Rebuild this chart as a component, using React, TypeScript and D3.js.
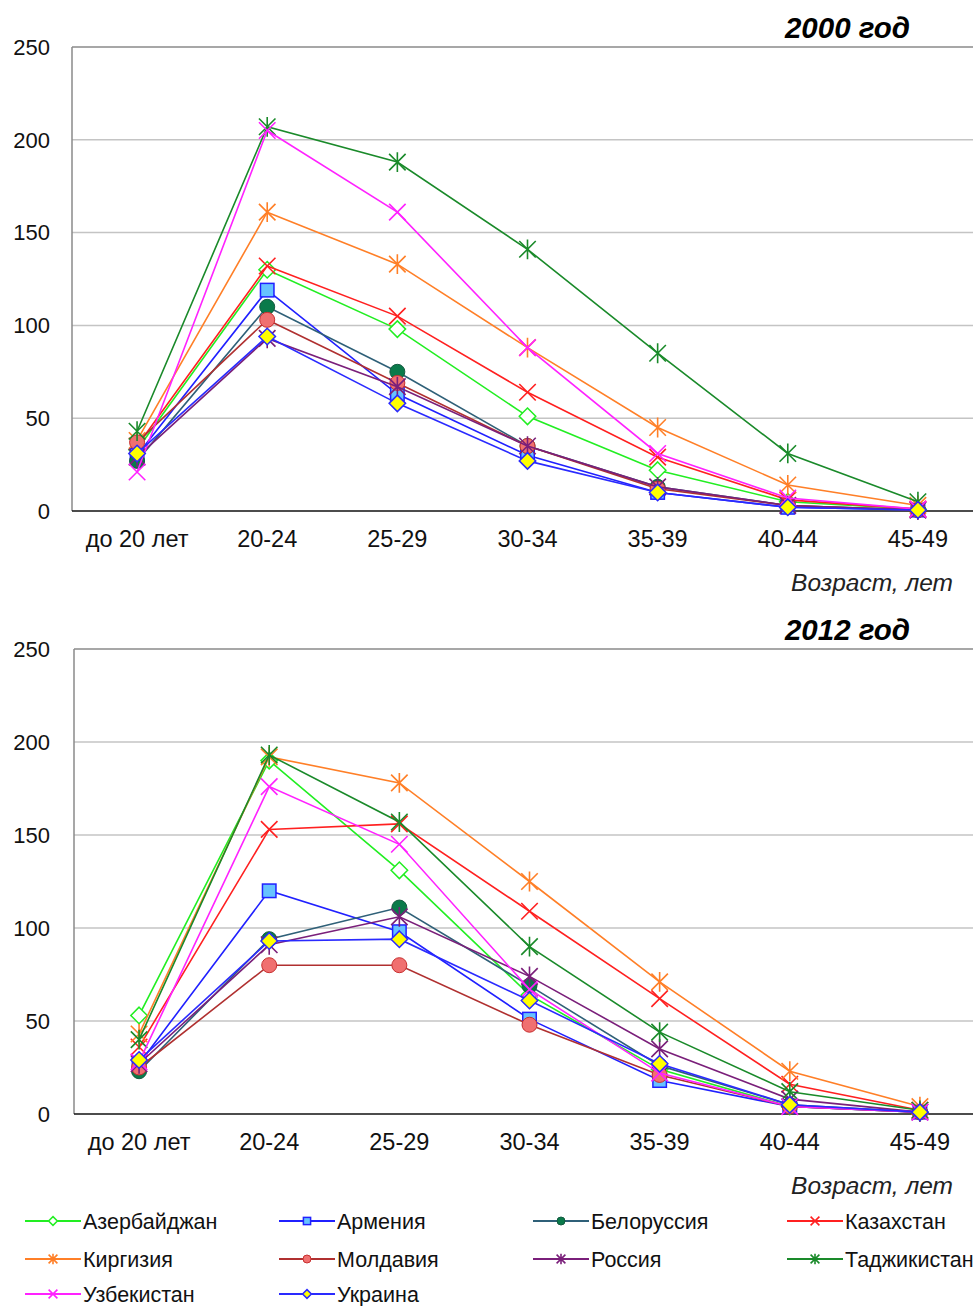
import * as d3 from 'd3';

const ages = ['до 20 лет', '20-24', '25-29', '30-34', '35-39', '40-44', '45-49'];
const countries = ['Азербайджан', 'Армения', 'Белоруссия', 'Казахстан', 'Киргизия', 'Молдавия', 'Россия', 'Таджикистан', 'Узбекистан', 'Украина'];
const yTicks = [0, 50, 100, 150, 200, 250];

const values2000 = [
  [33, 130, 98, 51, 22, 5, 1],
  [30, 119, 63, 30, 10, 2, 0.5],
  [27, 110, 75, 35, 13, 3, 0.5],
  [35, 132, 105, 64, 29, 6, 1],
  [38, 161, 133, 88, 45, 14, 3],
  [37, 103, 69, 35, 12, 3, 0.5],
  [29, 93, 67, 35, 13, 3, 0.5],
  [43, 207, 188, 141, 85, 31, 5],
  [21, 205, 161, 88, 31, 7, 1],
  [31, 94, 58, 27, 10, 2, 0.5],
];

const values2012 = [
  [53, 190, 131, 64, 24, 4, 1],
  [27, 120, 98, 51, 18, 4, 1],
  [23, 94, 111, 69, 26, 5, 1],
  [36, 153, 156, 109, 62, 16, 2],
  [43, 192, 178, 125, 71, 23, 4],
  [25, 80, 80, 48, 21, 4, 1],
  [27, 91, 106, 74, 35, 8, 1],
  [40, 193, 157, 90, 44, 12, 2],
  [28, 176, 145, 67, 22, 4, 1],
  [29, 93, 94, 61, 27, 5, 1],
];

type Style = { line: string; marker: string; fill: string; stroke: string };
const styles: Style[] = [
  { line: '#22ee22', marker: 'diamond', fill: '#ffffff', stroke: '#22ee22' },
  { line: '#2020ff', marker: 'square', fill: '#66c2ff', stroke: '#2020ff' },
  { line: '#2f6078', marker: 'circle', fill: '#0a7a4a', stroke: '#145a40' },
  { line: '#ff2020', marker: 'x', fill: 'none', stroke: '#ff2020' },
  { line: '#ff7f27', marker: 'star', fill: 'none', stroke: '#ff7f27' },
  { line: '#b03030', marker: 'circle', fill: '#f07070', stroke: '#c83030' },
  { line: '#7a1f7a', marker: 'star', fill: 'none', stroke: '#7a1f7a' },
  { line: '#1a8a2a', marker: 'star', fill: 'none', stroke: '#1a8a2a' },
  { line: '#ff22ff', marker: 'x', fill: 'none', stroke: '#ff22ff' },
  { line: '#2a2aff', marker: 'diamond', fill: '#ffff00', stroke: '#2a2aff' },
];

const FONT = 'Liberation Sans, Arial, sans-serif';

function Marker({ kind, x, y, s, fill, stroke }: { kind: string; x: number; y: number; s: number; fill: string; stroke: string }) {
  if (kind === 'circle') return <circle cx={x} cy={y} r={s * 0.5} fill={fill} stroke={stroke} strokeWidth={1} />;
  if (kind === 'square')
    return <rect x={x - s * 0.45} y={y - s * 0.45} width={s * 0.9} height={s * 0.9} fill={fill} stroke={stroke} strokeWidth={1.5} />;
  if (kind === 'diamond') {
    const h = s * 0.55;
    return <path d={`M${x},${y - h}L${x + h},${y}L${x},${y + h}L${x - h},${y}Z`} fill={fill} stroke={stroke} strokeWidth={1.5} />;
  }
  const h = s * 0.55;
  let d = `M${x - h},${y - h}L${x + h},${y + h}M${x - h},${y + h}L${x + h},${y - h}`;
  if (kind === 'star') d += `M${x},${y - h * 1.2}L${x},${y + h * 1.2}`;
  return <path d={d} fill="none" stroke={stroke} strokeWidth={1.6} />;
}

function Panel({ data, title, left, top, bottom }: { data: number[][]; title: string; left: number; top: number; bottom: number }) {
  const right = left + 911;
  const x = d3.scaleBand<string>().domain(ages).range([left, right]);
  const y = d3.scaleLinear().domain([0, 250]).range([bottom, top]);
  const cx = (a: string) => (x(a) ?? 0) + x.bandwidth() / 2;
  const line = d3
    .line<number>()
    .x((_, i) => cx(ages[i]))
    .y((v) => y(v));

  return (
    <g>
      {yTicks.slice(1, -1).map((t) => (
        <line key={t} x1={left} x2={right} y1={y(t)} y2={y(t)} stroke="#c4c4c4" strokeWidth={1.5} />
      ))}
      <line x1={left} x2={right} y1={top} y2={top} stroke="#8a8a8a" strokeWidth={1.5} />
      <line x1={left} x2={left} y1={top} y2={bottom} stroke="#8a8a8a" strokeWidth={1.5} />
      <line x1={left} x2={right} y1={bottom} y2={bottom} stroke="#111" strokeWidth={1.5} />
      {yTicks.map((t) => (
        <text key={t} x={50} y={y(t)} dy="0.35em" textAnchor="end" fontSize={22} fontFamily={FONT} fill="#111">
          {t}
        </text>
      ))}
      {ages.map((a) => (
        <text key={a} x={cx(a)} y={bottom + 36} textAnchor="middle" fontSize={23.5} fontFamily={FONT} fill="#111">
          {a}
        </text>
      ))}
      <text x={953} y={bottom + 80} textAnchor="end" fontSize={24.5} fontStyle="italic" fontFamily={FONT} fill="#222">
        Возраст, лет
      </text>
      <text x={910} y={top - 9} textAnchor="end" fontSize={29.5} fontWeight="bold" fontStyle="italic" fontFamily={FONT} fill="#000">
        {title}
      </text>
      {data.map((vals, k) => (
        <g key={k}>
          <path d={line(vals) ?? ''} fill="none" stroke={styles[k].line} strokeWidth={1.6} />
          {vals.map((v, i) => (
            <Marker key={i} kind={styles[k].marker} x={cx(ages[i])} y={y(v)} s={15} fill={styles[k].fill} stroke={styles[k].stroke} />
          ))}
        </g>
      ))}
    </g>
  );
}

function Legend() {
  const colX = [25, 279, 533, 787];
  const rowY = [1221, 1259, 1294];
  return (
    <g>
      {countries.map((c, k) => {
        const x0 = colX[k % 4];
        const y0 = rowY[Math.floor(k / 4)];
        const st = styles[k];
        return (
          <g key={c}>
            <line x1={x0} x2={x0 + 56} y1={y0} y2={y0} stroke={st.line} strokeWidth={2} />
            <Marker kind={st.marker} x={x0 + 28} y={y0} s={8} fill={st.fill} stroke={st.stroke} />
            <text x={x0 + 58} y={y0} dy="0.35em" fontSize={21.5} fontFamily={FONT} fill="#111">
              {c}
            </text>
          </g>
        );
      })}
    </g>
  );
}

export default function App() {
  return (
    <svg width={973} height={1306} style={{ position: 'absolute', left: 0, top: 0, background: '#fff' }}>
      <Panel data={values2000} title="2000 год" left={72} top={47} bottom={511} />
      <Panel data={values2012} title="2012 год" left={74} top={649} bottom={1114} />
      <Legend />
    </svg>
  );
}
